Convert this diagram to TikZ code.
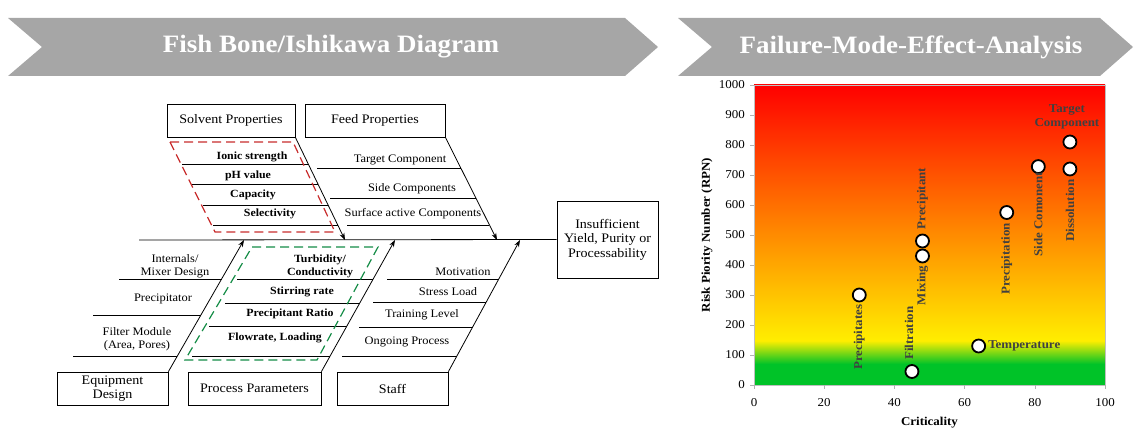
\documentclass[tikz,border=0pt]{standalone}
\usepackage{fontspec}
\setmainfont{Liberation Serif}[FakeStretch=1.08]
\usetikzlibrary{arrows.meta}

\definecolor{bannergray}{RGB}{166,166,166}
\definecolor{solventred}{RGB}{200,45,45}
\definecolor{processgreen}{RGB}{20,140,70}
\definecolor{lowgreen}{RGB}{0,195,40}
\definecolor{lowyellow}{RGB}{255,238,0}
\definecolor{highred}{RGB}{255,0,0}

\tikzset{
  banner/.style={fill=bannergray},
  bannertext/.style={text=white, font=\bfseries\fontsize{25}{27}\selectfont},
  cause/.style={draw, line width=0.8pt, minimum height=33pt, align=center,
    inner sep=2pt, font=\fontsize{13}{14.5}\selectfont},
  bone/.style={-{Stealth[length=7pt,width=5pt]}, line width=0.8pt},
  rib/.style={line width=0.7pt},
  riblabel/.style={align=center, inner sep=0pt, font=\fontsize{11.5}{13}\selectfont},
  keylabel/.style={riblabel, font=\bfseries\fontsize{11}{13}\selectfont},
  dashbox/.style={dash pattern=on 9pt off 5pt, line width=1.2pt},
  ticklabel/.style={inner sep=0pt, font=\fontsize{12}{13}\selectfont},
  axistitle/.style={inner sep=0pt, font=\bfseries\fontsize{12}{13}\selectfont},
  dot/.style={circle, draw, fill=white, line width=1.8pt, minimum size=13pt, inner sep=0pt},
  dotlabel/.style={inner sep=1pt, text=black!75, align=center,
    font=\bfseries\fontsize{12}{14}\selectfont},
}

\begin{document}
\begin{tikzpicture}[x=1pt, y=-1pt]
  \useasboundingbox (0,0) rectangle (1134,430);

  %banners
  \fill[banner] (8,18) -- (625,18) -- (658,47) -- (625,76) -- (8,76) -- (42,47) -- cycle;
  \fill[banner] (678,18) -- (1100,18) -- (1133,47) -- (1100,76) -- (678,76) -- (712,47) -- cycle;
  \node[bannertext] (fishtitle) at (331,47) {Fish Bone/Ishikawa Diagram};
  \node[bannertext] (fmeatitle) at (911,47) {Failure-Mode-Effect-Analysis};

  %cause boxes and effect
  \node[cause, minimum width=128pt] (solvent) at (231,120.5) {Solvent Properties};
  \node[cause, minimum width=140pt] (feed) at (375,120.5) {Feed Properties};
  \node[cause, minimum width=111pt] (equip) at (112.5,388.5) {Equipment\\Design};
  \node[cause, minimum width=133pt] (process) at (254.5,388.5) {Process Parameters};
  \node[cause, minimum width=111pt] (staff) at (392.5,388.5) {Staff};
  \node[cause, minimum width=101pt, minimum height=77pt] (effect) at (607.5,239.5)
    {Insufficient\\Yield, Purity or\\Processability};

  %spine
  \coordinate (tail) at (139,240);
  \coordinate (s1) at (345,240);
  \coordinate (s2) at (497,240);
  \coordinate (s3) at (244,240);
  \coordinate (s4) at (395,240);
  \coordinate (s5) at (520,240);
  \draw[line width=0.8pt] (tail) -- (effect.west);
  \draw[bone] (solvent.south east) -- (s1);
  \draw[bone] (feed.south east) -- (s2);
  \draw[bone] (equip.north east) -- (s3);
  \draw[bone] (process.north east) -- (s4);
  \draw[bone] (staff.north east) -- (s5);

  %ribs: y / from / to / label x / label y / text
  \foreach \y/\a/\b/\lx/\ly/\t [count=\i] in {
      164/182/308/252/157/Ionic strength, 184/192/318/248/176/pH value,
      205/203/328/253/195/Capacity, 225/213/338/270/214/Selectivity}{
    \draw[rib] (\a,\y) -- (\b,\y);
    \node[keylabel] (sol\i) at (\lx,\ly) {\t};
  }
  \foreach \y/\a/\b/\lx/\ly/\t [count=\i] in {
      168/317/461/400/160/Target Component, 198/330/476/412/189/Side Components,
      225/347/489/413/214/Surface active Components}{
    \draw[rib] (\a,\y) -- (\b,\y);
    \node[riblabel] (feed\i) at (\lx,\ly) {\t};
  }
  \foreach \y/\a/\b/\lx/\ly/\t [count=\i] in {
      279/119/222/175/266/{Internals/\\Mixer Design}, 315/93/201/163/299/Precipitator,
      356/73/177/137/339/{Filter Module\\(Area, Pores)}}{
    \draw[rib] (\a,\y) -- (\b,\y);
    \node[riblabel] (equip\i) at (\lx,\ly) {\t};
  }
  \foreach \y/\a/\b/\lx/\ly/\t [count=\i] in {
      279/237/373/320/266/{Turbidity/\\Conductivity}, 303/225/360/302/292/Stirring rate,
      326/209/347/290/314/Precipitant Ratio, 356/192/330/275/338/{Flowrate, Loading}}{
    \draw[rib] (\a,\y) -- (\b,\y);
    \node[keylabel] (proc\i) at (\lx,\ly) {\t};
  }
  \foreach \y/\a/\b/\lx/\ly/\t [count=\i] in {
      279/387/499/463/272/Motivation, 302/373/486/448/292/Stress Load,
      327/359/473/422/315/Training Level, 356/342/457/407/342/Ongoing Process}{
    \draw[rib] (\a,\y) -- (\b,\y);
    \node[riblabel] (staff\i) at (\lx,\ly) {\t};
  }

  %key parameter groups
  \draw[dashbox, solventred] (170,142) -- (293,142) -- (335,232) -- (215,232) -- cycle;
  \draw[dashbox, processgreen] (252,247) -- (378,247) -- (317,360) -- (185,360) -- cycle;

  %risk chart
  \begin{scope}[shift={(754,385)}, x=3.51pt, y=0.3pt]
    \fill[lowgreen] (0,0) rectangle (100,70);
    \shade[bottom color=lowgreen, top color=lowyellow] (0,70) rectangle (100,148);
    \shade[bottom color=lowyellow, top color=highred] (0,147) rectangle (100,1000);
    \draw[black!25, line width=0.6pt] (0,0) rectangle (100,1000);
    %ticks
    \foreach \x in {0,20,...,100}{
      \draw[black!30, line width=0.6pt] (\x,0) -- ++(0,-4pt);
      \node[ticklabel, anchor=north] (xt\x) at ([yshift=-13pt]\x,0) {\x};
    }
    \foreach \y in {0,100,...,1000}{
      \draw[black!30, line width=0.6pt] (0,\y) -- ++(-4pt,0);
      \node[ticklabel, anchor=east] (yt\y) at ([xshift=-9pt]0,\y) {\y};
    }
    %labels
    \node[axistitle] (xtitle) at ([yshift=-38pt]50,0) {Criticality};
    \node[axistitle, rotate=90] (ytitle) at ([xshift=-47pt]0,500) {Risk Piority Number (RPN)};
    %points
    \foreach \x/\y/\n in {30/300/precipitates, 45/45/filtration, 48/430/mixing,
        48/480/precipitant, 64/130/temperature, 72/575/precipitation,
        81/728/side, 90/720/dissolution, 90/810/target}
      \node[dot] (\n) at (\x,\y) {};
    \node[dotlabel, rotate=90, anchor=east] (l1) at ([yshift=-1pt]precipitates.south) {Precipitates};
    \node[dotlabel, rotate=90, anchor=west] (l2) at ([xshift=-3pt, yshift=3pt]filtration.north) {Filtration};
    \node[dotlabel, rotate=90, anchor=east] (l3) at ([yshift=-1pt]mixing.south) {Mixing};
    \node[dotlabel, rotate=90, anchor=west] (l4) at ([yshift=3pt]precipitant.north) {Precipitant};
    \node[dotlabel, anchor=west] (l5) at ([xshift=1pt]temperature.east) {Temperature};
    \node[dotlabel, rotate=90, anchor=east] (l6) at ([yshift=-2pt]precipitation.south) {Precipitation};
    \node[dotlabel, rotate=90, anchor=east] (l7) at ([yshift=3pt]side.south) {Side Comonent};
    \node[dotlabel, rotate=90, anchor=east] (l8) at ([yshift=-2pt]dissolution.south) {Dissolution};
    \node[dotlabel, anchor=south] (l9) at ([xshift=-3pt, yshift=4pt]target.north) {Target\\Component};
  \end{scope}
\end{tikzpicture}
\end{document}
